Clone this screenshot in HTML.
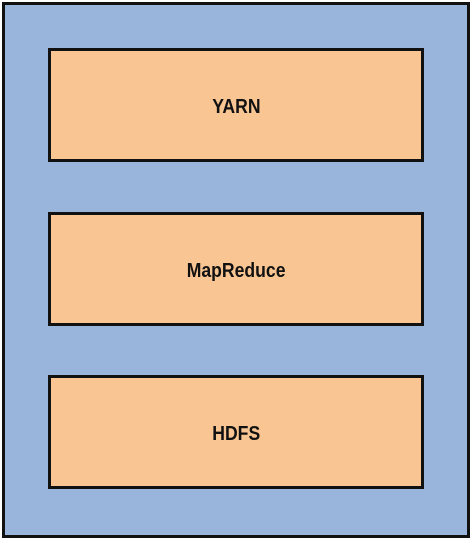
<!DOCTYPE html>
<html><head><style>
body{margin:0;width:473px;height:540px;background:#fff;overflow:hidden}
.outer{position:absolute;left:2px;top:2px;width:462px;height:530px;background:#9AB5DC;border:3px solid #111}
.box{position:absolute;left:43px;width:370px;height:104px;padding-top:4px;background:#F9C592;border:3px solid #111;display:flex;align-items:center;justify-content:center;font-family:"Liberation Sans",sans-serif;font-weight:bold;font-size:20px;color:#111}
.box span{display:inline-block;transform:scaleX(0.88)}
</style></head><body>
<div class="outer">
<div class="box" style="top:43px"><span>YARN</span></div>
<div class="box" style="top:207px"><span>MapReduce</span></div>
<div class="box" style="top:370px"><span>HDFS</span></div>
</div>
</body></html>
